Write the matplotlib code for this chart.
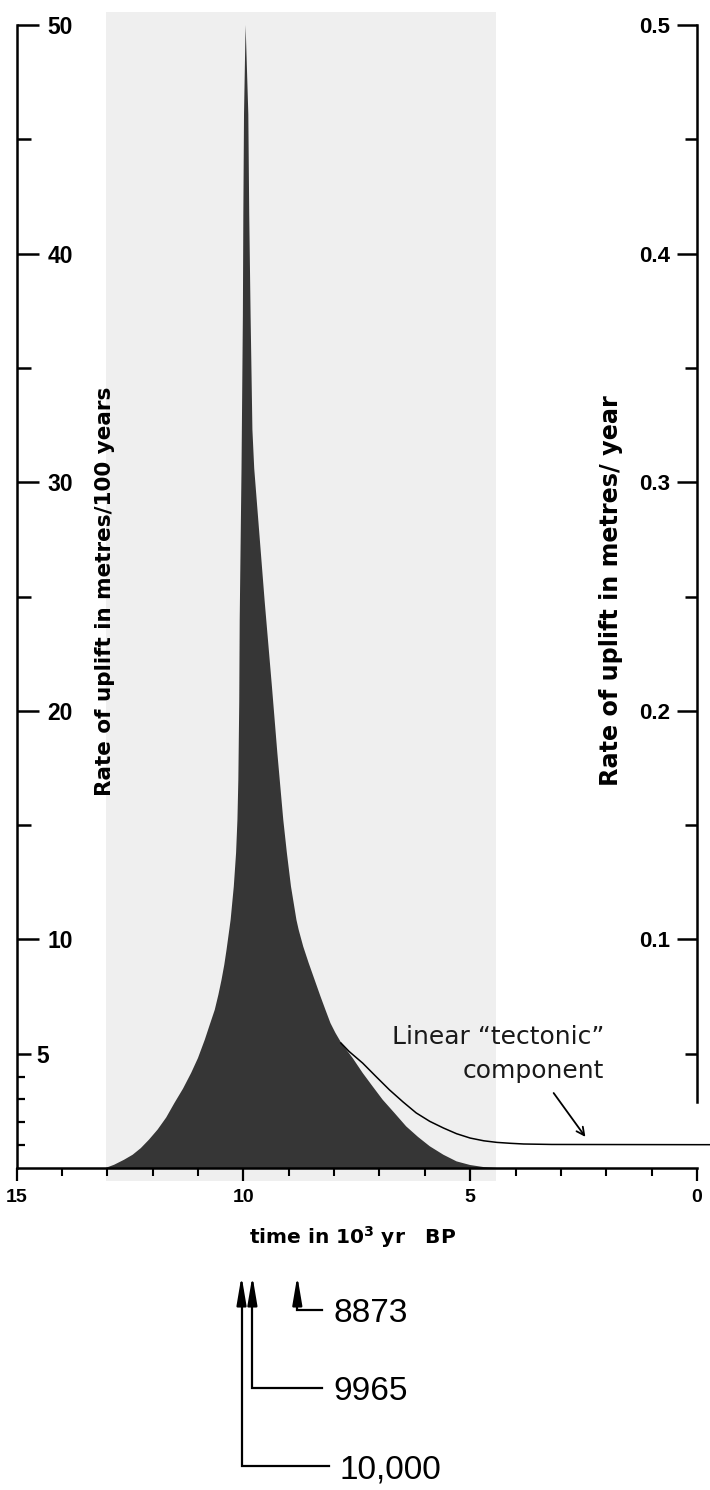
import matplotlib
matplotlib.use('Agg')
import matplotlib.pyplot as plt
from matplotlib.ticker import FixedLocator, FixedFormatter
from matplotlib.transforms import blended_transform_factory

DPI = 100
W, H = 710, 1490

# uplift rate, m/100 yr, against time in 10^3 yr BP
# rising (older) limb, from the base up to the peak
rise_x = [13.04, 12.85, 12.63, 12.44, 12.26, 12.08, 11.89, 11.70, 11.52, 11.33,
          11.15, 11.00, 10.85, 10.74, 10.63, 10.55, 10.48, 10.42, 10.37, 10.31,
          10.28, 10.21, 10.16, 10.13, 10.11, 10.09, 10.08, 10.04, 10.01, 10.00,
          9.985, 9.95]
rise_y = [0, 0.14, 0.36, 0.58, 0.87, 1.24, 1.68, 2.21, 2.84, 3.47,
          4.16, 4.81, 5.61, 6.27, 6.92, 7.58, 8.24, 8.89, 9.55, 10.42,
          10.86, 12.32, 13.78, 15.24, 16.99, 20.4, 23.98, 30.6, 37.3, 41.7,
          46.1, 50.0]
# falling (younger) limb, from the peak down to the base
fall_x = [9.95, 9.89, 9.87, 9.84, 9.80, 9.76, 9.53, 9.37, 9.25, 9.12, 9.04,
          8.95, 8.83, 8.78, 8.68, 8.56, 8.43, 8.30, 8.19, 8.08, 7.97, 7.84,
          7.59, 7.37, 7.15, 6.93, 6.67, 6.41, 6.15, 5.89, 5.59, 5.30, 5.00,
          4.70, 4.41]
fall_y = [50.0, 46.1, 41.7, 37.3, 32.3, 30.6, 24.8, 21.07, 18.15, 15.24, 13.78,
          12.32, 10.86, 10.42, 9.69, 8.97, 8.24, 7.51, 6.92, 6.34, 5.91, 5.47,
          4.81, 4.16, 3.57, 2.99, 2.41, 1.82, 1.36, 0.95, 0.58, 0.29, 0.13,
          0.04, 0]

# linear "tectonic" component
tect_x = [7.85, 7.67, 7.37, 7.08, 6.78, 6.48, 6.19, 5.89, 5.59, 5.30, 5.00,
          4.70, 4.41, 4.11, 3.82, 3.20, 0.0, -0.3]
tect_y = [5.47, 5.10, 4.59, 4.01, 3.42, 2.89, 2.41, 2.04, 1.75, 1.50, 1.31,
          1.19, 1.12, 1.08, 1.05, 1.03, 1.02, 1.02]

# dates marked under the axis
marker_labels = ['8873', '9965', '10,000']
marker_x = [8.81, 9.80, 10.04]      # where the arrows sit (spread apart a bit)

x_major = [15, 10, 5, 0]
x_minor = [14, 13, 12, 11, 9, 8, 7, 6, 4, 3, 2, 1]
left_major = [10, 20, 30, 40, 50]
left_minor = [5, 15, 25, 35, 45]
left_small = [1, 2, 3, 4]
right_major = [0.1, 0.2, 0.3, 0.4, 0.5]
right_minor = [0.05, 0.15, 0.25, 0.35, 0.45]

LIB = ['Liberation Sans', 'DejaVu Sans']
plt.rcParams['font.family'] = ['DejaVu Sans']
plt.rcParams['mathtext.default'] = 'bf'


def pt(px):
    return px * 72.0 / DPI


def fy(px_from_top):
    return 1 - px_from_top / H


fig = plt.figure(figsize=(W / DPI, H / DPI), dpi=DPI)
left_px, right_px, top_px, bot_px = 16.5, 697, 25, 1168
ax = fig.add_axes([left_px / W, fy(bot_px), (right_px - left_px) / W, (bot_px - top_px) / H])
ax.set_xlim(15, 0)
ax.set_ylim(0, 50)
ax.patch.set_visible(False)

# light grey photo background
ax.axvspan(4.44, 13.03, ymin=-0.011, ymax=1.011, color='#efefef', lw=0,
           zorder=0, clip_on=False)

ax.fill(rise_x + fall_x, rise_y + fall_y, color='#363636', lw=0, zorder=2)
ax.plot(tect_x, tect_y, color='black', lw=1.1, zorder=3, clip_on=False)

for s in ['top', 'right']:
    ax.spines[s].set_visible(False)
for s in ['left', 'bottom']:
    ax.spines[s].set_linewidth(1.8)

# x axis
ax.xaxis.set_major_locator(FixedLocator(x_major))
ax.xaxis.set_minor_locator(FixedLocator(x_minor))
ax.set_xticklabels([str(v) for v in x_major])
ax.tick_params(axis='x', which='major', direction='out', length=pt(13), width=1.6,
               pad=pt(8), labelsize=14)
ax.tick_params(axis='x', which='minor', direction='out', length=pt(8), width=1.5)
for lbl in ax.get_xticklabels():
    lbl.set_family(LIB)
    lbl.set_fontweight('bold')

# left y axis, labels sit inside the frame
ax.yaxis.set_major_locator(FixedLocator(left_major))
ax.yaxis.set_minor_locator(FixedLocator(left_minor))
ax.yaxis.set_minor_formatter(FixedFormatter(['5', '', '', '', '']))
ax.set_yticklabels([str(v) for v in left_major])
ax.tick_params(axis='y', which='major', direction='in', length=pt(22), width=1.8,
               pad=-pt(31), labelsize=16.5)
ax.tick_params(axis='y', which='minor', direction='in', length=pt(14), width=1.8,
               pad=-pt(20), labelsize=16.5)
for lbl in ax.yaxis.get_majorticklabels() + ax.yaxis.get_minorticklabels():
    lbl.set_horizontalalignment('left')
    lbl.set_family(LIB)
    lbl.set_fontweight('bold')

sec = ax.secondary_yaxis('left')
sec.set_yticks(left_small)
sec.tick_params(direction='in', length=pt(8), width=1.6, labelleft=False)
sec.spines['left'].set_visible(False)

# right y axis in m/yr
ax2 = ax.twinx()
ax2.set_ylim(0, 0.5)
for s in ['top', 'left', 'bottom']:
    ax2.spines[s].set_visible(False)
ax2.spines['right'].set_linewidth(1.8)
ax2.spines['right'].set_bounds(0.029, 0.5)
ax2.yaxis.set_major_locator(FixedLocator(right_major))
ax2.yaxis.set_minor_locator(FixedLocator(right_minor))
ax2.set_yticklabels([f'{v:.1f}' for v in right_major])
ax2.tick_params(axis='y', which='major', direction='in', length=pt(20), width=1.8,
                pad=-pt(27), labelsize=16)
ax2.tick_params(axis='y', which='minor', direction='in', length=pt(12), width=1.8)
for lbl in ax2.yaxis.get_majorticklabels():
    lbl.set_horizontalalignment('right')
    lbl.set_family(LIB)
    lbl.set_fontweight('bold')

# axis titles
fig.text(105 / W, fy(591), 'Rate of uplift in metres/100 years', rotation=90,
         ha='center', va='center', fontsize=15.5, fontweight='bold')
fig.text(611 / W, fy(591), 'Rate of uplift in metres/ year', rotation=90,
         ha='center', va='center', fontsize=17.2, fontweight='bold')
fig.text(353 / W, fy(1237), 'time in 10$^{3}$ yr   BP', ha='center', va='center',
         fontsize=14.5, fontweight='bold')

# tectonic component note
ax.text(6.72, 5.72, 'Linear \u201ctectonic\u201d', fontsize=18, ha='left', va='center',
        color='#1a1a1a')
ax.text(5.17, 4.23, 'component', fontsize=18, ha='left', va='center', color='#1a1a1a')
ax.annotate('', xy=(2.46, 1.36), xytext=(3.16, 3.28),
            arrowprops=dict(arrowstyle='->', lw=1.3, color='black',
                            shrinkA=0, shrinkB=0, mutation_scale=14))

# dated arrows under the time axis
trans = blended_transform_factory(ax.transData, fig.transFigure)
row_y = [1310, 1388, 1466]
row_end = [8.26, 8.26, 8.12]
for lab, x, ry, xe in zip(marker_labels, marker_x, row_y, row_end):
    ax.plot([x, x, xe], [fy(1290), fy(ry), fy(ry)], transform=trans, color='black',
            lw=1.6, clip_on=False, solid_joinstyle='miter')
    ax.annotate('', xy=(x, fy(1276)), xytext=(x, fy(1300)), xycoords=trans,
                textcoords=trans,
                arrowprops=dict(arrowstyle='-|>,head_length=0.95,head_width=0.16',
                                lw=1.6, color='black', shrinkA=0, shrinkB=0,
                                mutation_scale=18))
    ax.text(xe - 0.25, fy(ry + 4), lab, transform=trans, ha='left', va='center',
            fontsize=24, family=LIB)

fig.savefig('out.png', dpi=DPI)
